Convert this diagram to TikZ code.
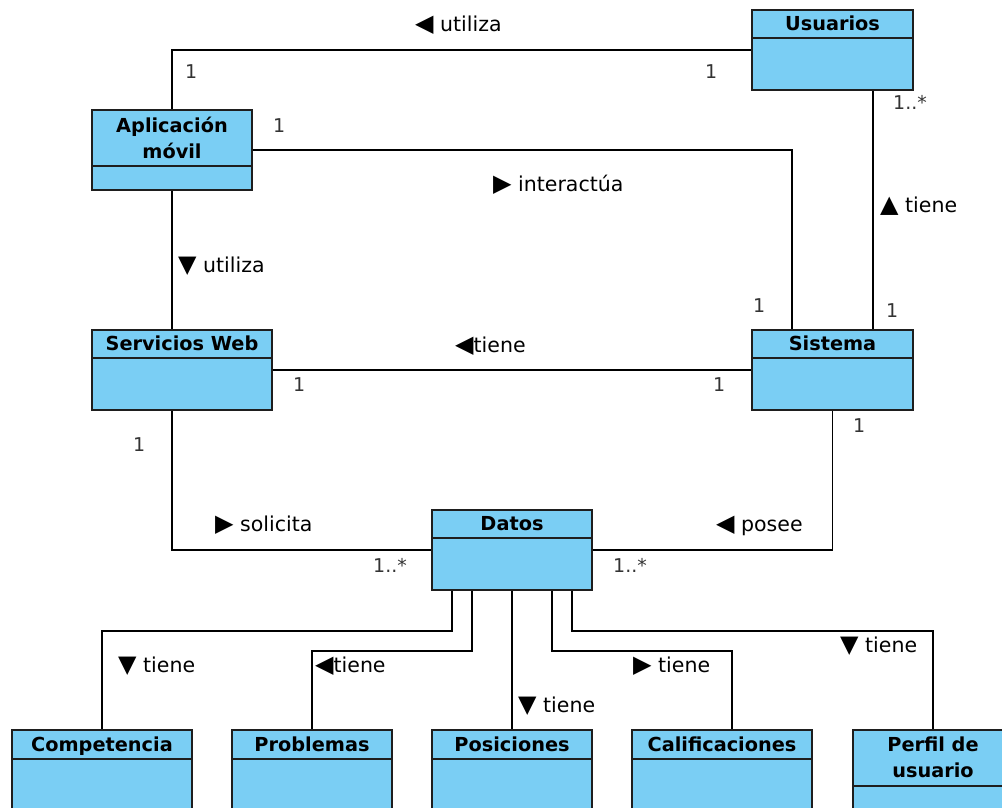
\documentclass[tikz,border=0pt]{standalone}
\usepackage{fontspec}
\setmainfont{DejaVu Sans}
\newcommand{\arr}[1]{{\fontsize{24}{24}\selectfont #1}}
\begin{document}
\begin{tikzpicture}[x=1pt, y=-1pt]

        % Colours of the class boxes
        \definecolor{clsblue}{RGB}{122,206,244}
        \definecolor{clsline}{RGB}{30,30,30}

        \tikzset{
          cls/.style={draw=clsline, fill=clsblue, line width=1.6pt, inner sep=0pt},
          hd/.style={draw=clsline, line width=1.6pt, inner sep=0pt, anchor=north, text depth=1pt,
                     font=\fontsize{19.3}{26}\selectfont\bfseries, align=center},
          lbl/.style={font=\fontsize{20.5}{22}\selectfont, inner sep=0pt, anchor=base west},
          mult/.style={font=\fontsize{19}{20}\selectfont, text=black!80, inner sep=0pt, anchor=base west},
          assoc/.style={line width=1.5pt}
        }

        \useasboundingbox (0,0) rectangle (1002,808);

        % Upper classes
        \node[cls, minimum width=161, minimum height=80] (usuarios) at (832.5,50) {};
        \node[hd, minimum width=161, minimum height=28] (usuariosh) at (usuarios.north) {Usuarios};

        \node[cls, minimum width=160, minimum height=80] (aplic) at (172,150) {};
        \node[hd, minimum width=160, minimum height=56] (aplich) at (aplic.north) {Aplicación\\móvil};

        \node[cls, minimum width=180, minimum height=80] (servicios) at (182,370) {};
        \node[hd, minimum width=180, minimum height=28] (serviciosh) at (servicios.north) {Servicios Web};

        \node[cls, minimum width=161, minimum height=80] (sistema) at (832.5,370) {};
        \node[hd, minimum width=161, minimum height=28] (sistemah) at (sistema.north) {Sistema};

        \node[cls, minimum width=160, minimum height=80] (datos) at (512,550) {};
        \node[hd, minimum width=160, minimum height=28] (datosh) at (datos.north) {Datos};

        % Lower classes (cut by the page edge)
        \node[cls, minimum width=180, minimum height=110] (competencia) at (102,785) {};
        \node[hd, minimum width=180, minimum height=29] (competenciah) at (competencia.north) {Competencia};

        \node[cls, minimum width=160, minimum height=110] (problemas) at (312,785) {};
        \node[hd, minimum width=160, minimum height=29] (problemash) at (problemas.north) {Problemas};

        \node[cls, minimum width=160, minimum height=110] (posiciones) at (512,785) {};
        \node[hd, minimum width=160, minimum height=29] (posicionesh) at (posiciones.north) {Posiciones};

        \node[cls, minimum width=180, minimum height=110] (calific) at (722,785) {};
        \node[hd, minimum width=180, minimum height=29] (califich) at (calific.north) {Calificaciones};

        \node[cls, minimum width=160, minimum height=110] (perfil) at (933,785) {};
        \node[hd, minimum width=160, minimum height=56] (perfilh) at (perfil.north) {Perfil de\\usuario};

        % Associations
        \draw[assoc] (aplic.north) |- (usuarios.west);
        \draw[assoc] (aplic.east) -| ([xshift=-40.5]sistema.north);
        \draw[assoc] ([xshift=40.5]usuarios.south) -- ([xshift=40.5]sistema.north);
        \draw[assoc] (aplic.south) -- ([xshift=-10]servicios.north);
        \draw[assoc] (servicios.east) -- (sistema.west);
        \draw[assoc] ([xshift=-10]servicios.south) |- (datos.west);
        \draw[assoc] (sistema.south) |- (datos.east);

        \draw[assoc] ([xshift=-60]datos.south) -- ++(0,40) -| (competencia.north);
        \draw[assoc] ([xshift=-40]datos.south) -- ++(0,60) -| (problemas.north);
        \draw[assoc] (datos.south) -- (posiciones.north);
        \draw[assoc] ([xshift=40]datos.south) -- ++(0,60) -| ([xshift=10]calific.north);
        \draw[assoc] ([xshift=60]datos.south) -- ++(0,40) -| (perfil.north);

        % Association names
        \node[lbl] (n1) at (415,32) {\arr{◀} utiliza};
        \node[lbl] (n2) at (493,191) {\arr{▶} interactúa};
        \node[lbl] (n3) at (880,212) {\arr{▲} tiene};
        \node[lbl] (n4) at (178,272) {\arr{▼} utiliza};
        \node[lbl] (n5) at (455,352) {\arr{◀}tiene};
        \node[lbl] (n6) at (215,531) {\arr{▶} solicita};
        \node[lbl] (n7) at (716,531) {\arr{◀} posee};
        \node[lbl] (n8) at (118,672) {\arr{▼} tiene};
        \node[lbl] (n9) at (315,672) {\arr{◀}tiene};
        \node[lbl] (n10) at (518,712) {\arr{▼} tiene};
        \node[lbl] (n11) at (633,672) {\arr{▶} tiene};
        \node[lbl] (n12) at (840,652) {\arr{▼} tiene};

        % Multiplicities
        \node[mult] (m1) at (185,78) {1};
        \node[mult] (m2) at (705,78) {1};
        \node[mult] (m3) at (273,132) {1};
        \node[mult] (m4) at (893,110) {1..*};
        \node[mult] (m5) at (753,312) {1};
        \node[mult] (m6) at (886,317) {1};
        \node[mult] (m7) at (293,391) {1};
        \node[mult] (m8) at (713,391) {1};
        \node[mult] (m9) at (133,451) {1};
        \node[mult] (m10) at (853,432) {1};
        \node[mult] (m11) at (373,572) {1..*};
        \node[mult] (m12) at (613,572) {1..*};

    \end{tikzpicture}
\end{document}
